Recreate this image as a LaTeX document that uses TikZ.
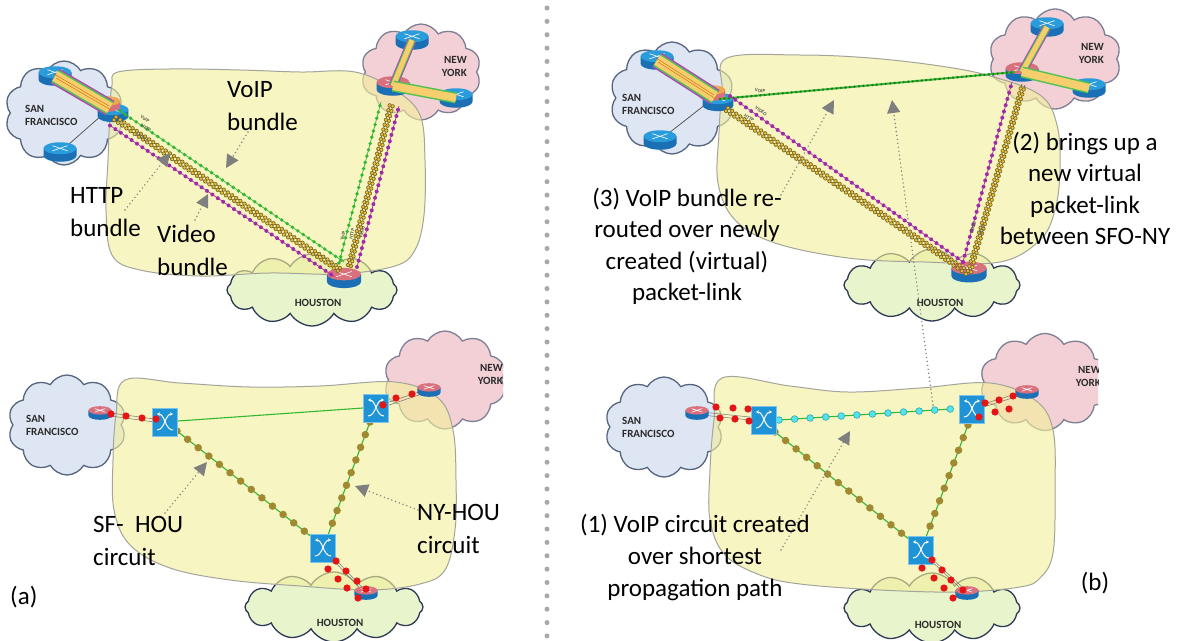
\documentclass[tikz,border=0pt]{standalone}
\usepackage{fontspec}
\setmainfont{Carlito}
\usetikzlibrary{shapes.symbols,arrows.meta}

\definecolor{sffill}{HTML}{DDE6F2}
\definecolor{sfline}{HTML}{56657F}
\definecolor{nyfill}{HTML}{F2D0D5}
\definecolor{nyline}{HTML}{7C7F95}
\definecolor{houfill}{HTML}{E8F4CC}
\definecolor{houline}{HTML}{2E3A55}
\definecolor{blobfill}{HTML}{F3EF9C}
\definecolor{blobline}{HTML}{A3A59C}
\definecolor{rtblue}{HTML}{2A9BDB}
\definecolor{rtbody}{HTML}{1B6FB5}
\definecolor{rtred}{HTML}{D9707E}
\definecolor{rtorange}{HTML}{F0A64A}
\definecolor{swblue}{HTML}{1E93D6}
\definecolor{swedge}{HTML}{7CC4EC}
\definecolor{lgreen}{HTML}{33B833}
\definecolor{dgreen}{HTML}{1F7A1F}
\definecolor{lmag}{HTML}{A12AA8}
\definecolor{lyel}{HTML}{E8C23C}
\definecolor{lolive}{HTML}{7E6A22}
\definecolor{bandyel}{HTML}{F6CE6E}
\definecolor{circdot}{HTML}{A08930}
\definecolor{reddot}{HTML}{E51515}
\definecolor{cyandot}{HTML}{52E3EC}
\definecolor{cyanedge}{HTML}{2FA7B5}
\definecolor{arrowgray}{HTML}{7F7F7F}
\definecolor{sepgray}{HTML}{A8A8A8}
\definecolor{citytext}{HTML}{2B2B2B}
\definecolor{tinytext}{HTML}{5A5A4A}

\tikzset{
  pics/router/.style 2 args={code={
    \fill[#2] (-11,-2.5) -- (-11,2.5) arc[start angle=180,end angle=0,x radius=11,y radius=4] -- (11,-2.5) -- cycle;
    \fill[#1] (0,-2.5) ellipse[x radius=11,y radius=4];
    \draw[white,line width=0.6pt] (-5,-4.2) -- (5,-0.8) (-5,-0.8) -- (5,-4.2);
  }},
  pics/xswitch/.style={code={
    \fill[swblue] (-12.5,-14) rectangle (12.5,14);
    \draw[swedge,line width=0.6pt] (-12.5,-14) rectangle (12.5,14);
    \draw[white,line width=1pt,-{Stealth[length=3pt,width=3.4pt]}] (-8,8) .. controls (0,8) and (0,-8) .. (8,-8);
    \draw[white,line width=1pt,-{Stealth[length=3pt,width=3.4pt]}] (8,8) .. controls (0,8) and (0,-8) .. (-8,-8);
  }},
  cloudshape/.style={cloud, cloud puffs=10, cloud puff arc=120, aspect=1.3, line width=1.3pt, inner sep=0pt},
  sfcloud/.style={cloudshape, fill=sffill, draw=sfline},
  nycloud/.style={cloudshape, fill=nyfill, draw=nyline},
  houcloud/.style={cloudshape, cloud puffs=12, fill=houfill, draw=houline},
  blob/.style={fill=blobfill, fill opacity=0.62, draw=blobline, line width=1pt},
  city/.style={font=\fontsize{11}{13}\selectfont\bfseries, text=citytext, inner sep=0pt},
  tiny/.style={font=\fontsize{5}{5}\selectfont\bfseries, text=tinytext, inner sep=0pt},
  notetext/.style={font=\fontsize{25}{33}\selectfont, inner sep=0pt, text=black},
  notetextb/.style={font=\fontsize{25}{31.5}\selectfont, inner sep=0pt, text=black},
  note/.style={draw=arrowgray, line width=1.6pt, line cap=round, dash pattern=on 0pt off 4pt,
    -{Triangle[length=13pt,width=13pt,fill=arrowgray]}},
  gbundle/.style={draw=lgreen, line width=0.7pt,
    postaction={draw=lgreen, line width=3.8pt, line cap=round, dash pattern=on 0pt off 6.5pt}},
  mbundle/.style={draw=lmag, line width=0.7pt,
    postaction={draw=lmag, line width=4pt, line cap=round, dash pattern=on 0pt off 6.5pt}},
  ybundle/.style={draw=lolive, line width=0.8pt,
    postaction={draw=lolive, line width=4.2pt, line cap=round, dash pattern=on 0pt off 5pt},
    postaction={draw=lyel, line width=2.8pt, line cap=round, dash pattern=on 0pt off 5pt}},
  vlink/.style={draw=lgreen, line width=2pt,
    postaction={draw=dgreen, line width=2.6pt, line cap=round, dash pattern=on 0pt off 4.5pt}},
  circuit/.style={draw=lgreen, line width=1.1pt,
    postaction={draw=circdot, line width=7.5pt, line cap=round, dash pattern=on 0pt off 13.5pt}},
  cyancircuit/.style={draw=lgreen, line width=1.1pt,
    postaction={draw=cyanedge, line width=7.4pt, line cap=round, dash pattern=on 0pt off 15.6pt},
    postaction={draw=cyandot, line width=5.8pt, line cap=round, dash pattern=on 0pt off 15.6pt}},
  redpair/.style={draw=black!55, line width=0.5pt},
  bandm/.style={draw=lmag!85, line width=#1},
  bandg/.style={draw=lgreen!85, line width=#1},
  bandy/.style={draw=bandyel, line width=#1},
  thinlink/.style={draw=black!65, line width=0.8pt},
  sep/.style={draw=sepgray, line width=5pt, line cap=round, dash pattern=on 0pt off 13.36pt},
}

\begin{document}
\begin{tikzpicture}[x=1pt,y=-1pt]
\fill[white] (0,0) rectangle (1180,640);
\useasboundingbox (0,0) rectangle (1180,640);

% ---------- divider ----------
\coordinate (sepTop) at (547,8);
\coordinate (sepBot) at (547,636);
\draw[sep] (sepTop) -- (sepBot);

% =================== (a) upper: packet bundles ===================
\node[sfcloud, minimum width=118, minimum height=104] (tlSFc) at (64,113) {};
\node[nycloud, minimum width=120, minimum height=96] (tlNYc) at (421,72) {};
\node[houcloud, minimum width=170, minimum height=72] (tlHOc) at (312,290) {};
\draw[blob] plot[smooth cycle, tension=0.6] coordinates {
  (118,72) (170,69) (240,70) (300,72) (355,72) (395,90) (420,115) (425,160)
  (424,215) (415,250) (395,266) (340,274) (270,273) (200,276) (140,270)
  (112,255) (106,210) (108,160) (110,110) (112,85)};
\node[city, align=left, anchor=west] (tlSFt) at (25,115) {SAN\\FRANCISCO};
\node[city, align=right, anchor=east] (tlNYt) at (467,66) {NEW\\YORK};
\node[city] (tlHOt) at (318,303) {HOUSTON};

\coordinate (tlR1) at (55,76);
\coordinate (tlR2) at (110,108);
\coordinate (tlR3) at (60,152);
\coordinate (tlN1) at (412,40);
\coordinate (tlN2) at (393,86);
\coordinate (tlN3) at (456,98);
\coordinate (tlHr) at (344,278);

\draw[thinlink] (tlR2) -- (tlR3);
\pic[scale=1.5] at (tlR1) {router={rtblue}{rtbody}};
\pic[scale=1.5] at (tlR3) {router={rtblue}{rtbody}};
\pic[scale=1.4] at ([shift={(3,5)}]tlR2) {router={rtblue}{rtbody}};
\pic[scale=1.2] at ([shift={(-3,-4)}]tlR2) {router={rtorange}{rtred}};
\pic[scale=1.5] at (tlN1) {router={rtblue}{rtbody}};
\pic[scale=1.5] at (tlN3) {router={rtblue}{rtbody}};
\pic[scale=1.5] at (tlN2) {router={rtred}{rtbody}};
\pic[scale=1.55] at (tlHr) {router={rtred}{rtbody}};

% bundled pipes inside the sites
\draw[bandm=17pt] (tlR1) -- (tlR2);
\draw[bandg=14pt] (tlR1) -- (tlR2);
\draw[bandy=11pt] (tlR1) -- (tlR2);
\draw[draw=orange!80!black, line width=0.4pt] ([shift={(-1,-2)}]tlR1) -- ([shift={(-1,-2)}]tlR2)
  ([shift={(1,2)}]tlR1) -- ([shift={(1,2)}]tlR2);
\draw[bandm=9pt] (tlN1) -- (tlN2);
\draw[bandg=7pt] (tlN1) -- (tlN2);
\draw[bandy=5pt] (tlN1) -- (tlN2);
\draw[bandg=11pt] (tlN2) -- (tlN3);
\draw[bandy=8pt] (tlN2) -- (tlN3);

% SF -- HOU and HOU -- NY bundles
\coordinate (tlS) at (116,117);
\coordinate (tlH) at (340,268);
\coordinate (tlH2) at (348,265);
\coordinate (tlN) at (390,104);
\draw[gbundle] ([shift={(4,-6)}]tlS) -- ([shift={(4,-6)}]tlH);
\draw[ybundle] (tlS) -- (tlH);
\draw[ybundle] ([shift={(-2,3)}]tlS) -- ([shift={(-2,3)}]tlH);
\draw[mbundle] ([shift={(-6,8.5)}]tlS) -- ([shift={(-6,8.5)}]tlH);
\draw[gbundle] ([shift={(-9,-2)}]tlH2) -- ([shift={(-9,-2)}]tlN);
\draw[ybundle] (tlH2) -- (tlN);
\draw[ybundle] ([shift={(3,1)}]tlH2) -- ([shift={(3,1)}]tlN);
\draw[mbundle] ([shift={(9,2)}]tlH2) -- ([shift={(9,2)}]tlN);

\node[tiny, rotate=-33] (tlTa) at (145,119) {VoIP};
\node[tiny, rotate=-33] (tlTb) at (146,128) {HTTP};
\node[tiny, rotate=-33] (tlTc) at (142,137) {Video};
\node[tiny, rotate=76] (tlTd) at (343,236) {VoIP};
\node[tiny, rotate=76] (tlTe) at (352,234) {HTTP};
\node[tiny, rotate=76] (tlTf) at (362,232) {Video};

\node[notetext, align=left, anchor=north west] (tlVoIP) at (227,73.9) {\strut VoIP\\bundle};
\node[notetext, align=left, anchor=north west] (tlHTTP) at (70,179.9) {\strut HTTP\\bundle};
\node[notetext, align=left, anchor=north west] (tlVideo) at (157,218.9) {\strut Video\\bundle};
\coordinate (tlVa) at (248,132);
\coordinate (tlVb) at (226,168);
\coordinate (tlHa) at (125,210);
\coordinate (tlHb) at (170,153);
\coordinate (tlDa) at (195,220);
\coordinate (tlDb) at (208,194);
\draw[note] (tlVa) -- (tlVb);
\draw[note] (tlHa) -- (tlHb);
\draw[note] (tlDa) -- (tlDb);

% =================== (a) lower: optical circuits ===================
\begin{scope}
  \clip (0,320) rectangle (503,640);
  \node[sfcloud, minimum width=118, minimum height=100] (blSFc) at (67,425) {};
  \node[nycloud, minimum width=122, minimum height=98] (blNYc) at (445,380) {};
  \node[houcloud, minimum width=178, minimum height=70] (blHOc) at (334,607) {};
\end{scope}
\draw[blob] plot[smooth cycle, tension=0.6] coordinates {
  (125,380) (180,383) (250,387) (320,386) (395,382) (438,398) (453,430) (456,480)
  (455,530) (445,570) (420,584) (370,590) (300,586) (230,580) (170,568)
  (130,545) (114,510) (113,460) (116,415)};
\begin{scope}
  \clip (0,320) rectangle (503,640);
  \node[city, align=right, anchor=east] (blNYt) at (503,374) {NEW\\YORK};
\end{scope}
\node[city, align=left, anchor=west] (blSFt) at (26,425) {SAN\\FRANCISCO};
\node[city] (blHOt) at (340,623) {HOUSTON};

\coordinate (blSFr) at (100,413);
\coordinate (blNYr) at (429,390);
\coordinate (blHOr) at (366,593);
\coordinate (blSFs) at (165,422);
\coordinate (blNYs) at (376,408);
\coordinate (blHOs) at (323,548);

\draw[redpair] ([shift={(0,-1.5)}]blSFr) -- ([shift={(0,-1.5)}]blSFs);
\draw[redpair] ([shift={(0,1.5)}]blSFr) -- ([shift={(0,1.5)}]blSFs);
\draw[redpair] ([shift={(0,-1.5)}]blNYs) -- ([shift={(0,-1.5)}]blNYr);
\draw[redpair] ([shift={(0,1.5)}]blNYs) -- ([shift={(0,1.5)}]blNYr);
\draw[redpair] ([shift={(-1.5,0)}]blHOs) -- ([shift={(-1.5,0)}]blHOr);
\draw[redpair] ([shift={(1.5,0)}]blHOs) -- ([shift={(1.5,0)}]blHOr);
\pic[scale=1.05] at (blSFr) {router={rtred}{rtbody}};
\pic[scale=1.05] at (blNYr) {router={rtred}{rtbody}};
\pic[scale=1.05] at (blHOr) {router={rtred}{rtbody}};

\draw[draw=lgreen, line width=1.1pt] ([shift={(13,-1)}]blSFs) -- ([shift={(-13,0)}]blNYs);
\draw[circuit] ([shift={(12,9)}]blSFs) -- ([shift={(-10,-10)}]blHOs);
\draw[circuit] ([shift={(-6,14)}]blNYs) -- ([shift={(5,-13)}]blHOs);
\pic at (blSFs) {xswitch};
\pic at (blNYs) {xswitch};
\pic at (blHOs) {xswitch};

\foreach \p in {(111,414),(126,416),(142,418),(156,419),
                (383,405),(396,398),(412,394),
                (336,561),(328,569),(346,571),(338,579),(357,581),(347,588),(366,589),(358,598)}
  \fill[reddot] \p circle[radius=3.6];

\node[notetext, align=left, anchor=north west] (blSF) at (93,508.9) {\strut SF-\ \ HOU\\circuit};
\node[notetext, align=left, anchor=north west] (blNY) at (417,496.9) {\strut NY-HOU\\circuit};
\node[notetext, anchor=base west] (blA) at (10,604) {(a)};
\coordinate (blSa) at (165,513);
\coordinate (blSb) at (207,462);
\coordinate (blNa) at (418,510);
\coordinate (blNb) at (355,486);
\draw[note] (blSa) -- (blSb);
\draw[note] (blNa) -- (blNb);

% =================== (b) upper: re-routed bundles ===================
\node[sfcloud, minimum width=124, minimum height=112] (trSFc) at (672,98) {};
\node[nycloud, minimum width=132, minimum height=100] (trNYc) at (1055,59) {};
\node[houcloud, minimum width=176, minimum height=72] (trHOc) at (932,285) {};
\draw[blob] plot[smooth cycle, tension=0.6] coordinates {
  (727,58) (800,55) (870,58) (940,66) (990,76) (1040,95) (1057,125) (1060,170)
  (1055,210) (1040,240) (1000,262) (924,262) (848,258) (775,243) (735,220)
  (718,183) (719,133) (722,90)};
\node[city, align=left, anchor=west] (trSFt) at (622,104) {SAN\\FRANCISCO};
\node[city, align=right, anchor=east] (trNYt) at (1104,53) {NEW\\YORK};
\node[city] (trHOt) at (940,303) {HOUSTON};

\coordinate (trR1) at (657,60);
\coordinate (trR2) at (715,97);
\coordinate (trR3) at (660,140);
\coordinate (trN1) at (1047,27);
\coordinate (trN2) at (1022,72);
\coordinate (trN3) at (1089,88);
\coordinate (trHr) at (969,272);

\draw[thinlink] (trR2) -- (trR3);
\pic[scale=1.5] at (trR1) {router={rtblue}{rtbody}};
\pic[scale=1.5] at (trR3) {router={rtblue}{rtbody}};
\pic[scale=1.4] at ([shift={(3,5)}]trR2) {router={rtblue}{rtbody}};
\pic[scale=1.2] at ([shift={(-3,-4)}]trR2) {router={rtorange}{rtred}};
\pic[scale=1.5] at (trN1) {router={rtblue}{rtbody}};
\pic[scale=1.5] at (trN3) {router={rtblue}{rtbody}};
\pic[scale=1.5] at (trN2) {router={rtred}{rtbody}};
\pic[scale=1.6] at (trHr) {router={rtred}{rtbody}};

\draw[bandm=17pt] (trR1) -- (trR2);
\draw[bandg=14pt] (trR1) -- (trR2);
\draw[bandy=11pt] (trR1) -- (trR2);
\draw[draw=orange!80!black, line width=0.4pt] ([shift={(-1,-2)}]trR1) -- ([shift={(-1,-2)}]trR2)
  ([shift={(1,2)}]trR1) -- ([shift={(1,2)}]trR2);
\draw[bandm=9pt] (trN1) -- (trN2);
\draw[bandg=7pt] (trN1) -- (trN2);
\draw[bandy=5pt] (trN1) -- (trN2);
\draw[bandg=11pt] (trN2) -- (trN3);
\draw[bandy=8pt] (trN2) -- (trN3);

\coordinate (trSg) at (720,99);
\coordinate (trNg) at (1015,72);
\coordinate (trSm) at (730,96);
\coordinate (trHm) at (963,262);
\coordinate (trSy) at (728,108);
\coordinate (trHy) at (968,271);
\coordinate (trNm) at (1012,82);
\coordinate (trNy) at (1022,84);
\draw[vlink] (trSg) -- (trNg);
\draw[mbundle] (trSm) -- (trHm);
\draw[ybundle] (trSy) -- (trHy);
\draw[ybundle] ([shift={(-2,3)}]trSy) -- ([shift={(-2,3)}]trHy);
\draw[mbundle] (trHm) -- (trNm);
\draw[ybundle] (trHy) -- (trNy);
\draw[ybundle] ([shift={(3,1)}]trHy) -- ([shift={(3,1)}]trNy);

\node[tiny, rotate=-7] (trTa) at (760,91) {VOIP};
\node[tiny, rotate=-35] (trTb) at (761,111) {VIDEO};
\node[tiny, rotate=-35] (trTc) at (749,118) {HTTP};
\node[tiny, rotate=74] (trTd) at (973,228) {VIDEO};
\node[tiny, rotate=74] (trTe) at (982,231) {HTTP};

\node[notetextb, align=center, anchor=north] (trThree) at (687,184) {\strut (3) VoIP bundle re-\\routed over newly\\created (virtual)\\packet-link};
\node[notetextb, align=center, anchor=north] (trTwo) at (1085,128) {\strut (2) brings up a\\new virtual\\packet-link\\between SFO-NY};
\coordinate (trAa) at (781,195);
\coordinate (trAb) at (834,100);
\draw[note] (trAa) -- (trAb);

% =================== (b) lower: new VoIP circuit ===================
\begin{scope}
  \clip (580,320) rectangle (1098,640);
  \node[sfcloud, minimum width=118, minimum height=100] (brSFc) at (664,427) {};
  \node[nycloud, minimum width=130, minimum height=97] (brNYc) at (1045,382) {};
  \node[houcloud, minimum width=176, minimum height=70] (brHOc) at (932,608) {};
\end{scope}
\draw[blob] plot[smooth cycle, tension=0.6] coordinates {
  (722,378) (790,386) (848,392) (920,388) (990,383) (1035,400) (1053,430)
  (1055,490) (1053,553) (1040,578) (1020,587) (960,592) (880,590) (800,584)
  (760,575) (725,555) (710,520) (710,470) (714,420)};
\begin{scope}
  \clip (580,320) rectangle (1098,640);
  \node[city, align=right, anchor=east] (brNYt) at (1101,376) {NEW\\YORK};
\end{scope}
\node[city, align=left, anchor=west] (brSFt) at (622,427) {SAN\\FRANCISCO};
\node[city] (brHOt) at (938,625) {HOUSTON};

\coordinate (brSFr) at (697,413);
\coordinate (brNYr) at (1027,392);
\coordinate (brHOr) at (967,593);
\coordinate (brSFs) at (764,420);
\coordinate (brNYs) at (972,409);
\coordinate (brHOs) at (921,550);

\draw[redpair] ([shift={(0,-1.5)}]brSFr) -- ([shift={(0,-1.5)}]brSFs);
\draw[redpair] ([shift={(0,1.5)}]brSFr) -- ([shift={(0,1.5)}]brSFs);
\draw[redpair] ([shift={(0,-1.5)}]brNYs) -- ([shift={(0,-1.5)}]brNYr);
\draw[redpair] ([shift={(0,1.5)}]brNYs) -- ([shift={(0,1.5)}]brNYr);
\draw[redpair] ([shift={(-1.5,0)}]brHOs) -- ([shift={(-1.5,0)}]brHOr);
\draw[redpair] ([shift={(1.5,0)}]brHOs) -- ([shift={(1.5,0)}]brHOr);
\pic[scale=1.05] at (brSFr) {router={rtred}{rtbody}};
\pic[scale=1.05] at (brNYr) {router={rtred}{rtbody}};
\pic[scale=1.05] at (brHOr) {router={rtred}{rtbody}};

\draw[cyancircuit] ([shift={(15,0)}]brSFs) -- ([shift={(-21,0)}]brNYs);
\draw[circuit] ([shift={(11,12)}]brSFs) -- ([shift={(-11,-10)}]brHOs);
\draw[circuit] ([shift={(-4,16)}]brNYs) -- ([shift={(5,-13)}]brHOs);
\pic at (brSFs) {xswitch};
\pic at (brNYs) {xswitch};
\pic at (brHOs) {xswitch};

\foreach \p in {(716,407),(733,408),(748,409),(720,418),(735,419),(749,421),
                (985,403),(999,400),(1013,396),(995,412),(1009,409),(979,417),
                (932,560),(922,568),(942,570),(934,578),(951,580),(944,588),(963,590),(953,598)}
  \fill[reddot] \p circle[radius=3.6];

\node[notetext, font=\fontsize{25}{32}\selectfont, align=center, anchor=north] (brOne) at (695,509.6) {\strut (1) VoIP circuit created\\over shortest\\propagation path};
\node[notetext, anchor=base] (brB) at (1095,590) {(b)};
\coordinate (brAa) at (781,550);
\coordinate (brAb) at (850,431);
\coordinate (brLa) at (933,405);
\coordinate (brLb) at (892,100);
\draw[note] (brAa) -- (brAb);
\draw[note] (brLa) -- (brLb);

\end{tikzpicture}
\end{document}
